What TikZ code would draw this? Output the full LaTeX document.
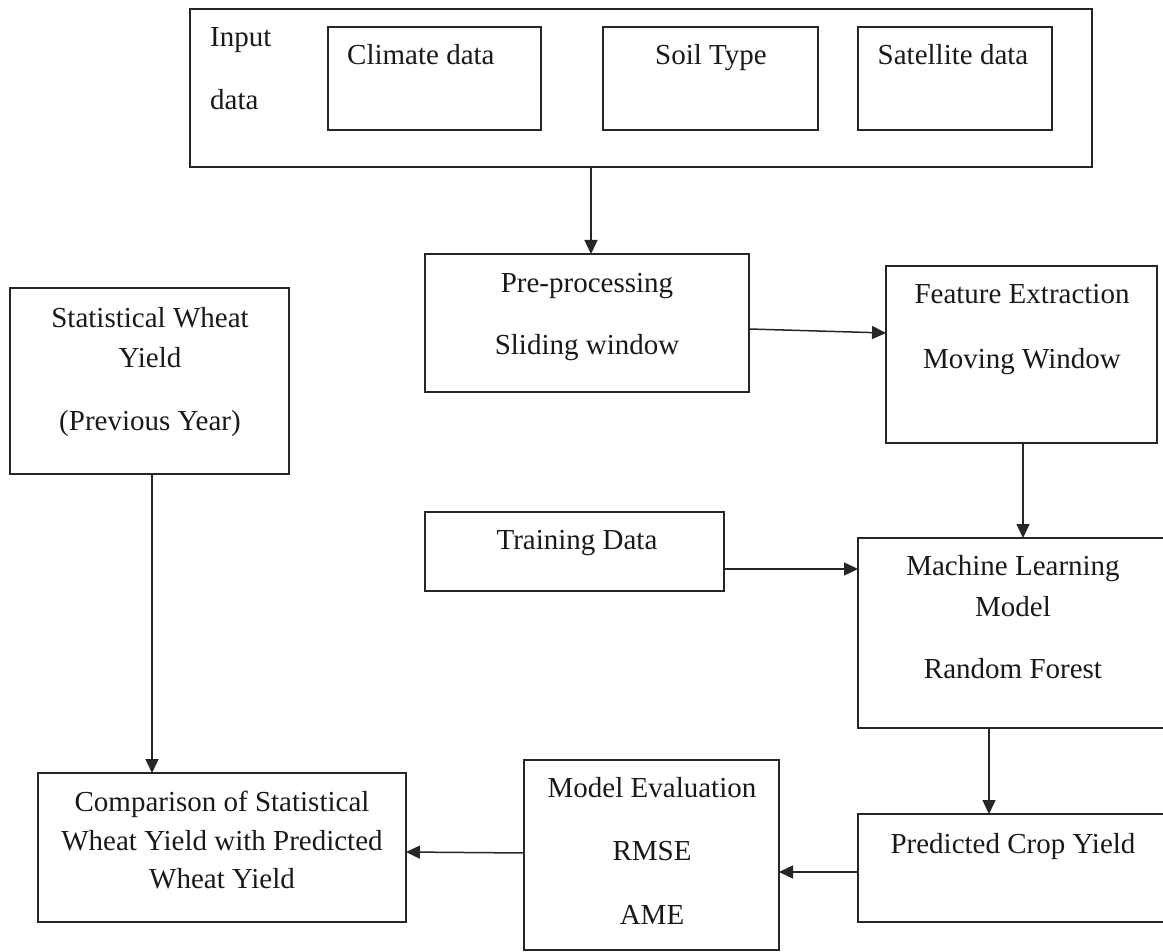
\documentclass[tikz,border=0pt]{standalone}
\usepackage{fontspec}
\setmainfont{Liberation Serif}
\usetikzlibrary{fit,arrows.meta}
\begin{document}
\begin{tikzpicture}[x=1pt,y=-1pt,
  box/.style={draw=black!85, line width=1.5pt, inner sep=0pt, outer sep=0pt},
  txt/.style={anchor=base, inner sep=0pt, font=\fontsize{29}{35}\selectfont, text=black!90},
  ltxt/.style={txt, anchor=base west},
  arr/.style={draw=black!85, line width=1.5pt, -{Triangle[length=14pt,width=13pt]}}]
\useasboundingbox (0,0) rectangle (1163,952);
% boxes
\node[box, fit={(190,9) (1092,167)}] (input) {};
\node[box, fit={(328,27) (541,130)}] (climate) {};
\node[box, fit={(603,27) (818,130)}] (soil) {};
\node[box, fit={(858,27) (1052,130)}] (sat) {};
\node[box, fit={(425,254) (749,392)}] (pre) {};
\node[box, fit={(886,266) (1157,443)}] (feat) {};
\node[box, fit={(10,288) (289,474)}] (stat) {};
\node[box, fit={(425,512) (724,591)}] (train) {};
\node[box, fit={(858,538) (1168,728)}] (ml) {};
\node[box, fit={(858,814) (1168,922)}] (pred) {};
\node[box, fit={(524,760) (779,950)}] (me) {};
\node[box, fit={(38,773) (406,922)}] (comp) {};
% texts
\node[ltxt] (tin1) at (210,47) {Input};
\node[ltxt] (tin2) at (210,110) {data};
\node[ltxt] (tclim) at (347,65) {Climate data};
\node[txt] (tsoil) at (711,65) {Soil Type};
\node[txt] (tsat) at (953,65) {Satellite data};
\node[txt] (tpre1) at (587,293) {Pre-processing};
\node[txt] (tpre2) at (587,355) {Sliding window};
\node[txt] (tfeat1) at (1022,304) {Feature Extraction};
\node[txt] (tfeat2) at (1022,368) {Moving Window};
\node[txt] (tstat1) at (150,327) {Statistical Wheat};
\node[txt] (tstat2) at (150,367) {Yield};
\node[txt] (tstat3) at (150,430) {(Previous Year)};
\node[txt] (ttrain) at (577,549) {Training Data};
\node[txt] (tml1) at (1013,575) {Machine Learning};
\node[txt] (tml2) at (1013,616) {Model};
\node[txt] (tml3) at (1013,678) {Random Forest};
\node[txt] (tpred) at (1013,853) {Predicted Crop Yield};
\node[txt] (tme1) at (652,797) {Model Evaluation};
\node[txt] (tme2) at (652,860) {RMSE};
\node[txt] (tme3) at (652,924) {AME};
\node[txt] (tcomp1) at (222,811) {Comparison of Statistical};
\node[txt] (tcomp2) at (222,850) {Wheat Yield with Predicted};
\node[txt] (tcomp3) at (222,888) {Wheat Yield};
% connectors
\draw[arr] ([xshift=401pt]input.south west) -- ([xshift=166pt]pre.north west);
\draw[arr] ([yshift=-75pt]pre.north east) -- ([yshift=-67pt]feat.north west);
\draw[arr] ([xshift=137pt]feat.south west) -- ([xshift=165pt]ml.north west);
\draw[arr] ([yshift=-57pt]train.north east) -- ([yshift=-31pt]ml.north west);
\draw[arr] ([xshift=131pt]ml.south west) -- ([xshift=131pt]pred.north west);
\draw[arr] ([yshift=-58pt]pred.north west) -- ([yshift=-112pt]me.north east);
\draw[arr] ([yshift=-93pt]me.north west) -- ([yshift=-79pt]comp.north east);
\draw[arr] ([xshift=142pt]stat.south west) -- ([xshift=114pt]comp.north west);
\end{tikzpicture}
\end{document}
